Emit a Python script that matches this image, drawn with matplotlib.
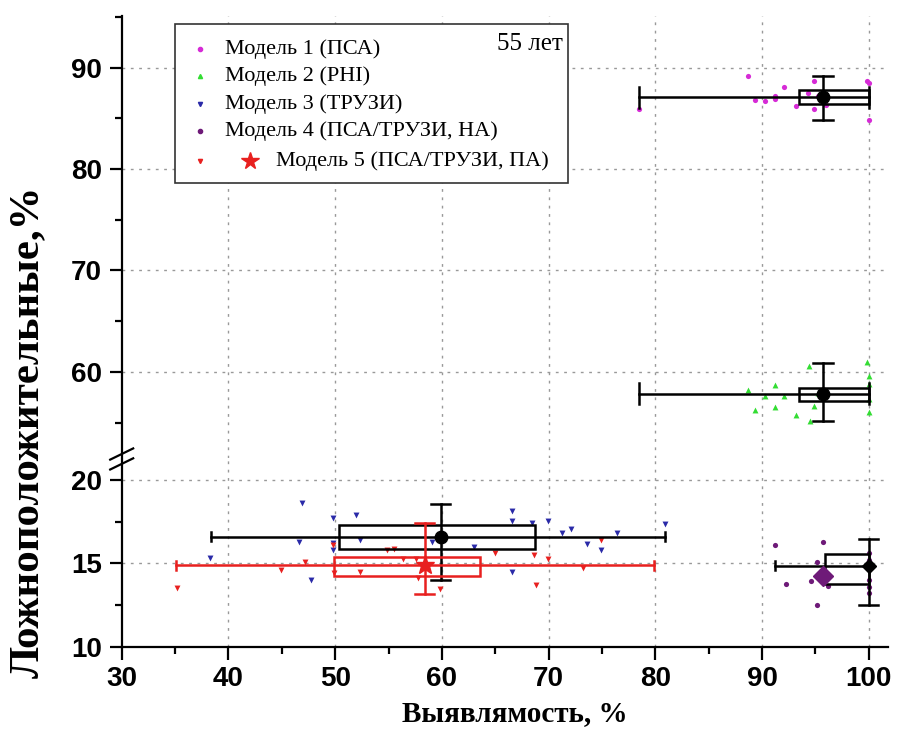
import matplotlib.pyplot as plt
from matplotlib.patches import Rectangle

# scatter of individual runs, per model
m1_x = [88.7, 78.5, 89.3, 90.3, 91.2, 91.2, 92.1, 93.2, 94.3, 94.9, 94.9, 96.0, 95.2, 99.8, 100.0, 100.0]
m1_y = [89.2, 85.9, 86.85, 86.75, 87.2, 86.9, 88.1, 86.2, 87.5, 88.65, 85.9, 86.3, 87.2, 88.65, 88.5, 84.8]

m2_x = [94.35, 99.8, 100.0, 100.0, 100.0, 100.0, 88.7, 91.2, 90.3, 92.1, 89.3, 91.2, 93.2, 94.9, 94.5, 95.2]
m2_y = [60.6, 61.0, 59.6, 58.8, 57.3, 56.0, 58.2, 58.7, 57.6, 57.6, 56.2, 56.5, 55.7, 56.6, 55.15, 57.9]

m3_x = [46.9, 49.8, 52.0, 46.6, 49.8, 49.8, 52.3, 38.3, 47.7, 59.1, 63.0, 66.6, 66.6, 68.4, 69.9,
        71.3, 72.1, 73.6, 74.9, 76.4, 80.9, 66.6]
m3_y = [18.6, 17.7, 17.9, 16.3, 16.2, 15.8, 16.4, 15.3, 14.0, 16.3, 16.0, 18.15, 17.55, 17.4, 17.55,
        16.85, 17.05, 16.15, 15.8, 16.85, 17.35, 14.5]

m4_x = [91.2, 95.7, 95.1, 94.6, 92.2, 96.2, 95.1, 100.0, 100.0, 100.0, 100.0, 100.0]
m4_y = [16.1, 16.3, 15.1, 13.95, 13.75, 13.65, 12.5, 15.6, 15.2, 14.0, 13.6, 13.2]

m5_x = [35.2, 44.9, 47.2, 49.8, 49.9, 52.3, 54.9, 55.5, 56.4, 57.6, 57.8, 59.8, 65.0, 68.6, 68.8,
        69.9, 73.2, 74.9]
m5_y = [13.5, 14.6, 15.1, 16.1, 14.45, 14.5, 15.8, 15.85, 15.25, 15.25, 14.15, 13.45, 15.6, 15.5, 13.7,
        15.25, 14.75, 16.4]

# summary per model: x range, x quartiles, y quartiles, mean point, y range
m1_stat = dict(xlo=78.5, xhi=100.0, xq1=93.5, xq3=100.0, yq1=86.4, yq3=87.8, mx=95.7, my=87.1, ylo=84.8, yhi=89.2)
m2_stat = dict(xlo=78.5, xhi=100.0, xq1=93.5, xq3=100.0, yq1=57.1, yq3=58.45, mx=95.7, my=57.85, ylo=55.15, yhi=60.9)
m3_stat = dict(xlo=38.4, xhi=80.9, xq1=50.4, xq3=68.7, yq1=15.85, yq3=17.3, mx=59.9, my=16.6, ylo=14.0, yhi=18.55)
m4_stat = dict(xlo=91.2, xhi=100.0, xq1=95.9, xq3=100.0, yq1=13.75, yq3=15.55, mx=100.0, my=14.85, ylo=12.5, yhi=16.45)
m5_stat = dict(xlo=35.1, xhi=79.9, xq1=49.9, xq3=63.6, yq1=14.25, yq3=15.4, mx=58.4, my=14.9, ylo=13.15, yhi=17.4)
m4_center = (95.7, 14.25)

labels = ['Модель 1 (ПСА)', 'Модель 2 (PHI)', 'Модель 3 (ТРУЗИ)',
          'Модель 4 (ПСА/ТРУЗИ, НА)', 'Модель 5 (ПСА/ТРУЗИ, ПА)']
x_ticks = [30, 40, 50, 60, 70, 80, 90, 100]
top_ticks = [60, 70, 80, 90]
bot_ticks = [10, 15, 20]

c_m1 = '#d62bd6'
c_m2 = '#33dd33'
c_m3 = '#2a2aa8'
c_m4 = '#6e1a78'
c_m5 = '#e8201f'

num_font = ['Liberation Sans', 'DejaVu Sans']
txt_font = ['Liberation Serif', 'DejaVu Serif']

fig = plt.figure(figsize=(8.98, 7.36), dpi=100)
ax_top = fig.add_axes([0.1355, 0.3777, 0.8534, 0.6005])
ax_bot = fig.add_axes([0.1355, 0.1213, 0.8534, 0.2537])

ax_top.set_ylim(51.5, 95.1)
ax_bot.set_ylim(10, 21.2)
ax_top.set_yticks(top_ticks)
ax_top.set_yticks([55, 65, 75, 85, 95], minor=True)
ax_bot.set_yticks(bot_ticks)
ax_bot.set_yticks([12.5, 17.5], minor=True)
for ax in (ax_top, ax_bot):
    ax.set_xlim(30, 101.8)
    ax.set_xticks(x_ticks)
    ax.set_xticks([35, 45, 55, 65, 75, 85, 95], minor=True)
    for s in ('top', 'right'):
        ax.spines[s].set_visible(False)
    ax.spines['left'].set_linewidth(1.6)
    ax.spines['bottom'].set_linewidth(1.6)
    ax.tick_params(which='major', direction='out', length=9, width=1.6, pad=5)
    ax.tick_params(which='minor', direction='out', length=5, width=1.6)
    for x in x_ticks[1:]:
        ax.axvline(x, color='#999999', lw=1, ls=(0, (2, 4)), zorder=0)
    for lab in ax.get_xticklabels() + ax.get_yticklabels():
        lab.set_fontfamily(num_font)
        lab.set_fontweight('bold')
        lab.set_fontsize(20)

ax_top.spines['bottom'].set_visible(False)
ax_top.tick_params(axis='x', which='both', bottom=False, labelbottom=False)
for y in top_ticks:
    ax_top.axhline(y, color='#999999', lw=1, ls=(0, (2, 4)), zorder=0)
for y in [15, 20]:
    ax_bot.axhline(y, color='#999999', lw=1, ls=(0, (2, 4)), zorder=0)


def draw_model(ax, st, color, mean_marker, mean_color, mean_size, z):
    lw = 1.8
    cap_y = (ax.get_ylim()[1] - ax.get_ylim()[0]) * 0.024
    ax.add_patch(Rectangle((st['xq1'], st['yq1']), st['xq3'] - st['xq1'], st['yq3'] - st['yq1'],
                           fill=False, edgecolor=color, lw=lw, zorder=z))
    ax.plot([st['xlo'], st['xhi']], [st['my'], st['my']], color=color, lw=lw, zorder=z)
    for xx in (st['xlo'], st['xhi']):
        ax.plot([xx, xx], [st['my'] - cap_y, st['my'] + cap_y], color=color, lw=lw, zorder=z)
    ax.plot([st['mx'], st['mx']], [st['ylo'], st['yhi']], color=color, lw=lw, zorder=z)
    for yy in (st['ylo'], st['yhi']):
        ax.plot([st['mx'] - 0.9, st['mx'] + 0.9], [yy, yy], color=color, lw=lw, zorder=z)
    ax.plot(st['mx'], st['my'], marker=mean_marker, color=mean_color, ms=mean_size, zorder=z + 1, ls='none')


ax_top.scatter(m1_x, m1_y, s=14, color=c_m1, marker='o', zorder=3, linewidths=0)
ax_top.scatter(m2_x, m2_y, s=18, color=c_m2, marker='^', zorder=3, linewidths=0)
draw_model(ax_top, m1_stat, 'black', 'o', 'black', 9, 4)
draw_model(ax_top, m2_stat, 'black', 'o', 'black', 9, 4)

ax_bot.scatter(m3_x, m3_y, s=18, color=c_m3, marker='v', zorder=3, linewidths=0)
ax_bot.scatter(m4_x, m4_y, s=14, color=c_m4, marker='o', zorder=3, linewidths=0)
ax_bot.scatter(m5_x, m5_y, s=18, color=c_m5, marker='v', zorder=3, linewidths=0)
draw_model(ax_bot, m3_stat, 'black', 'o', 'black', 9, 4)
draw_model(ax_bot, m4_stat, 'black', 'D', 'black', 7, 4)
ax_bot.plot(*m4_center, marker='D', color=c_m4, ms=10, zorder=5, ls='none')
draw_model(ax_bot, m5_stat, c_m5, '*', c_m5, 14, 6)

# axis break marks on the left spine
for yc in (1.032, 0.979):
    ax_bot.plot([-0.015, 0.015], [yc - 0.03, yc + 0.03], transform=ax_bot.transAxes,
                color='black', lw=1.6, clip_on=False, zorder=10)

# legend drawn by hand in the upper axes
leg_box = Rectangle((0.069, 0.622), 0.513, 0.360, transform=ax_top.transAxes,
                    fill=True, facecolor='white', edgecolor='#333333', lw=1.2, zorder=8)
ax_top.add_patch(leg_box)
leg_colors = [c_m1, c_m2, c_m3, c_m4, c_m5]
leg_markers = ['o', '^', 'v', 'o', 'v']
row_y = [0.926, 0.864, 0.801, 0.740, 0.672]
for lab, col, mk, ry in zip(labels, leg_colors, leg_markers, row_y):
    ax_top.plot(0.102, ry, marker=mk, color=col, ms=3, transform=ax_top.transAxes,
                zorder=9, ls='none', clip_on=False)
    tx = 0.1345
    if lab.startswith('Модель 5'):
        ax_top.plot(0.167, ry, marker='*', color=c_m5, ms=13, transform=ax_top.transAxes,
                    zorder=9, ls='none', clip_on=False)
        tx = 0.201
    ax_top.text(tx, ry, lab, transform=ax_top.transAxes, fontsize=16, family=txt_font,
                va='center', ha='left', zorder=9)
ax_top.text(0.576, 0.937, '55 лет', transform=ax_top.transAxes, fontsize=18, family=txt_font,
            va='center', ha='right', zorder=9)

fig.text(0.573, 0.030, 'Выявлямость, %', fontsize=21, family=txt_font, fontweight='bold',
         ha='center', va='center')
fig.text(0.031, 0.413, 'Ложноположительные,%', fontsize=31, family=txt_font, fontweight='bold',
         ha='center', va='center', rotation=90)

fig.savefig('out.png', dpi=100)
